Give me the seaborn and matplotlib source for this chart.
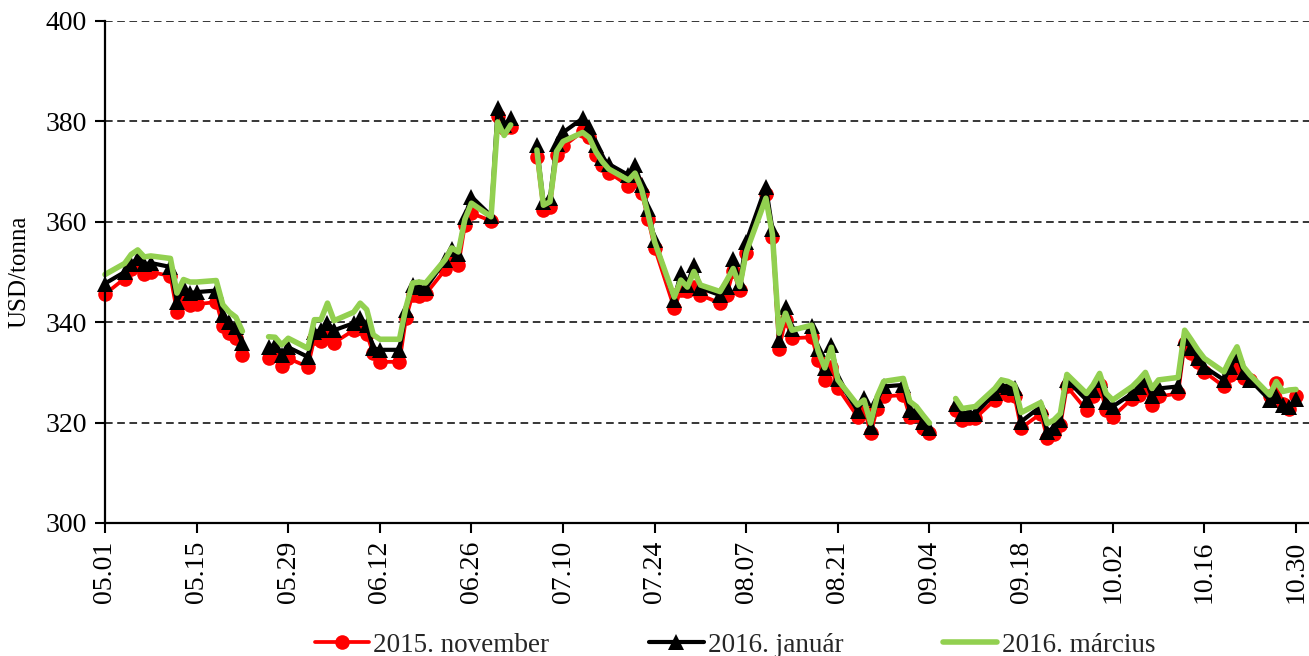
import matplotlib
matplotlib.use('Agg')
import matplotlib.pyplot as plt
from matplotlib.lines import Line2D
import matplotlib.dates as mdates
import seaborn as sns
import pandas as pd
import numpy as np

# trading days 2015.05.01 - 2015.10.30 (holidays left empty -> gap in line)
dates = pd.bdate_range('2015-05-01', '2015-10-30')
x_ticks = pd.date_range('2015-05-01', '2015-10-30', freq='14D')
y_ticks = [300, 320, 340, 360, 380, 400]
series_names = ['2015. november', '2016. január', '2016. március']

nov_2015 = [
    345.6, 348.7, 350.5, 351.3, 349.6, 350.0, 349.2, 342.1, 344.2, 343.4, 343.6,
    344.0, 339.3, 337.8, 336.8, 333.5, None, 332.8, 333.5, 331.3, 332.8,
    331.1, 336.8, 336.2, 337.8, 335.9, 338.4, 338.8, 337.6, 333.8, 332.1, 332.1,
    340.8, 345.5, 345.2, 345.6, 350.5, 352.6, 351.3, 359.4, 361.7, 360.2, 381.0,
    378.6, 378.8, None, 373.0, 362.4, 362.9, 373.4, 375.0, 378.0, 376.8, 373.4,
    371.4, 369.8, 367.2, 368.2, 365.8, 360.6, 354.8, 342.8, 346.4, 346.2, 347.0, 345.4,
    343.8, 345.4, 350.2, 346.4, 353.8, 365.5, 357.0, 334.7, 340.5, 336.8, 337.0,
    332.5, 328.5, 331.0, 326.9, 321.2, 323.0, 317.9, 322.8, 325.2, 325.5,
    321.2, 321.5, 318.9, 317.9, None, 322.5, 320.5, 321.0, 320.9, 324.5, 326.5,
    325.5, 325.2, 318.9, 321.8, 317.0, 317.8, 319.5, 327.2, 322.5, 325.2, 327.5,
    322.5, 321.2, 324.8, 325.5, 326.8, 323.5, 325.2, 325.8, 335.8, 333.8, 332.1,
    330.1, 327.2, 329.5, 331.0, 328.8, 328.5, 325.2, 327.8, 323.8, 322.8, 325.2,
]
jan_2016 = [
    347.7, 350.0, 351.5, 352.8, 351.5, 351.8, 351.0, 344.0, 346.8, 345.8, 346.0,
    346.3, 341.5, 340.0, 339.0, 335.8, None, 335.1, 335.5, 333.5, 335.0,
    333.1, 338.0, 338.4, 339.8, 338.4, 339.8, 340.8, 339.5, 334.8, 334.5, 334.5,
    342.4, 347.5, 347.0, 346.8, 352.3, 354.5, 353.5, 361.0, 365.0, 361.2, 382.6,
    379.3, 380.6, None, 375.3, 364.0, 364.7, 375.5, 377.8, 380.6, 378.8, 375.3,
    372.8, 371.5, 369.3, 371.3, 367.3, 362.5, 356.3, 344.5, 349.8, 347.5, 351.4, 346.8,
    345.4, 347.1, 352.5, 347.8, 356.0, 367.0, 358.5, 336.5, 343.0, 338.6, 339.2,
    334.6, 330.8, 335.4, 328.6, 322.4, 324.9, 319.2, 324.5, 327.2, 327.5,
    322.5, 322.2, 320.2, 318.9, None, 323.8, 321.8, 322.0, 321.8, 325.8, 327.5,
    327.0, 326.8, 320.2, 323.2, 318.2, 319.0, 320.5, 328.5, 324.5, 326.5, 328.5,
    324.2, 323.2, 325.8, 327.0, 328.5, 325.2, 326.8, 327.2, 336.8, 334.8, 332.8,
    331.1, 328.5, 331.1, 333.5, 330.1, 328.5, 324.5, 325.2, 323.5, 323.2, 324.8,
]
mar_2016 = [
    349.5, 351.7, 353.5, 354.4, 353.0, 353.2, 352.7, 345.8, 348.5, 348.0, 348.0,
    348.3, 343.5, 342.0, 341.0, 338.2, None, 337.1, 337.0, 335.5, 336.8,
    334.8, 340.5, 340.5, 343.8, 340.3, 342.0, 343.8, 342.5, 337.5, 336.6, 336.6,
    343.0, 347.8, 348.0, 347.8, 352.5, 354.8, 354.0, 360.5, 363.7, 361.0, 379.9,
    377.2, 379.3, None, 374.3, 363.3, 364.0, 374.0, 376.0, 377.8, 376.8, 374.0,
    372.0, 370.5, 368.3, 369.7, 366.5, 361.5, 356.0, 345.0, 348.4, 347.0, 350.1, 347.4,
    346.1, 348.3, 350.7, 347.1, 354.0, 364.7, 357.5, 337.8, 341.8, 338.4, 339.4,
    334.2, 330.9, 335.0, 328.5, 323.5, 324.5, 319.9, 325.2, 328.2, 328.8,
    324.2, 323.2, 321.5, 319.9, None, 324.8, 322.8, 323.0, 323.2, 326.8, 328.5,
    328.2, 327.5, 322.0, 324.0, 319.8, 320.5, 321.8, 329.6, 325.8, 327.5, 329.8,
    325.8, 324.5, 327.2, 328.5, 330.0, 326.8, 328.5, 329.0, 338.4, 336.5, 334.5,
    332.8, 330.1, 332.8, 335.1, 331.1, 329.5, 325.5, 328.2, 326.2, 326.5, 326.6,
]

sns.set_theme(style='white')
plt.rcParams['font.family'] = ['Liberation Serif', 'DejaVu Serif']

fig = plt.figure(figsize=(13.09, 6.56), dpi=100)
ax = fig.add_axes([105 / 1309, 1 - 523 / 656, (1309 - 105) / 1309, (523 - 21) / 656])

styles = [
    dict(color='#FF0000', marker='o', markersize=10.5, linewidth=2.7),
    dict(color='#000000', marker='^', markersize=11, linewidth=3.0),
    dict(color='#92D050', marker=None, markersize=0, linewidth=4.0),
]

handles = []
for name, vals, st in zip(series_names, [nov_2015, jan_2016, mar_2016], styles):
    df = pd.DataFrame({'date': dates, 'value': pd.to_numeric(pd.Series(vals), errors='coerce')})
    df['seg'] = df['value'].isna().cumsum()
    df = df.dropna()
    kw = dict(color=st['color'], linewidth=st['linewidth'])
    if st['marker']:
        kw.update(marker=st['marker'], markersize=st['markersize'],
                  markeredgewidth=0, markerfacecolor=st['color'])
    sns.lineplot(data=df, x='date', y='value', units='seg', estimator=None,
                 ax=ax, legend=False, clip_on=False, **kw)
    handles.append(Line2D([], [], **kw))

ax.set_ylim(300, 400)
ax.set_yticks(y_ticks)
ax.set_xlim(dates[0], dates[-1] + pd.Timedelta(days=2))
ax.set_xticks(x_ticks)
ax.xaxis.set_major_formatter(mdates.DateFormatter('%m.%d'))
ax.tick_params(axis='x', rotation=90)
ax.tick_params(axis='both', bottom=True, left=True, direction='out', length=7,
               width=1.5, color='black', labelsize=20, labelcolor='black')
ax.tick_params(axis='y', pad=6)
ax.tick_params(axis='x', pad=6)

ax.yaxis.grid(True, color='black', linestyle=(0, (5, 3)), linewidth=1.1)
ax.xaxis.grid(False)
ax.set_axisbelow(True)

for side in ['top', 'right']:
    ax.spines[side].set_visible(False)
for side in ['left', 'bottom']:
    ax.spines[side].set_color('black')
    ax.spines[side].set_linewidth(1.6)

ax.set_xlabel('')
ax.set_ylabel('USD/tonna', fontsize=18, color='black')
ax.yaxis.set_label_coords(-0.062, 0.5)

fig.legend(handles, series_names, loc='center', bbox_to_anchor=(735 / 1309, 1 - 645 / 656),
           ncol=3, frameon=False, fontsize=19.5, handlelength=2.0, handletextpad=0.15,
           columnspacing=3.7)

fig.savefig('out.png', dpi=100)
